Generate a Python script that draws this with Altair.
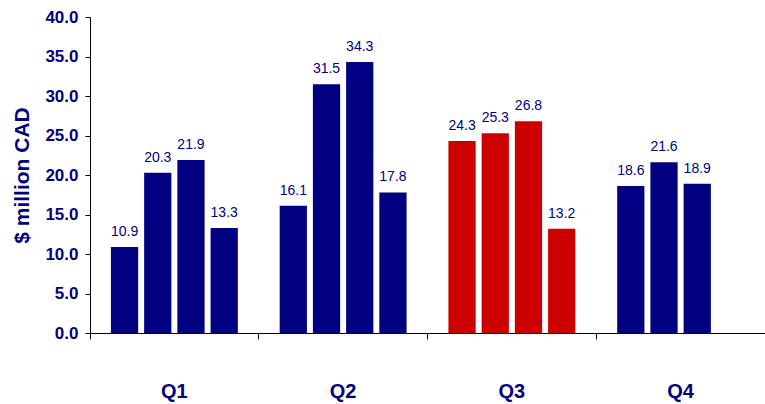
import altair as alt
import pandas as pd

quarters = ["Q1", "Q2", "Q3", "Q4"]
slots = ["s1", "s2", "s3", "s4"]
q1 = [10.9, 20.3, 21.9, 13.3]
q2 = [16.1, 31.5, 34.3, 17.8]
q3 = [24.3, 25.3, 26.8, 13.2]
q4 = [18.6, 21.6, 18.9]
y_ticks = [0, 5, 10, 15, 20, 25, 30, 35, 40]

rows = []
for q, vals in zip(quarters, [q1, q2, q3, q4]):
    for s, v in zip(slots, vals):
        rows.append({"quarter": q, "slot": s, "value": v})
df = pd.DataFrame(rows)

NAVY = "#000080"
RED = "#CC0000"
FONT = "Liberation Sans"

x_enc = alt.X(
    "quarter:N",
    sort=quarters,
    scale=alt.Scale(domain=quarters, paddingInner=0, paddingOuter=0),
    axis=alt.Axis(
        title=None,
        labelAngle=0,
        labelFont=FONT,
        labelFontSize=20,
        labelFontWeight="bold",
        labelColor=NAVY,
        labelPadding=42,
        tickSize=6,
        tickColor="black",
        domainColor="black",
        bandPosition=0,
        grid=False,
    ),
)
xoff = alt.XOffset(
    "slot:N",
    scale=alt.Scale(domain=slots, paddingInner=0.18, paddingOuter=0.63),
)
y_enc = alt.Y(
    "value:Q",
    scale=alt.Scale(domain=[0, 40], nice=False),
    axis=alt.Axis(
        title="$ million CAD",
        titleFont=FONT,
        titleFontSize=21,
        titleFontWeight="bold",
        titleColor=NAVY,
        titlePadding=12,
        values=y_ticks,
        format=".1f",
        labelOverlap=False,
        labelFont=FONT,
        labelFontSize=17,
        labelFontWeight="bold",
        labelColor=NAVY,
        labelPadding=7,
        tickSize=5,
        tickColor="black",
        domainColor="black",
        grid=False,
    ),
)

bars = alt.Chart(df).mark_bar().encode(
    x=x_enc,
    xOffset=xoff,
    y=y_enc,
    color=alt.condition(alt.datum.quarter == "Q3", alt.value(RED), alt.value(NAVY)),
)

labels = alt.Chart(df).mark_text(
    font=FONT, fontSize=14, color=NAVY, baseline="alphabetic", dy=-11
).encode(
    x=x_enc,
    xOffset=xoff,
    y=y_enc,
    text=alt.Text("value:Q", format=".1f"),
)

chart = (
    alt.layer(bars, labels)
    .properties(
        width=675,
        height=316,
        autosize=alt.AutoSizeParams(type="none"),
        padding={"left": 90, "top": 17, "right": 0, "bottom": 71},
        background="white",
    )
    .configure_view(stroke=None)
)

chart.save("out.html", embed_options={"renderer": "svg", "actions": False})
